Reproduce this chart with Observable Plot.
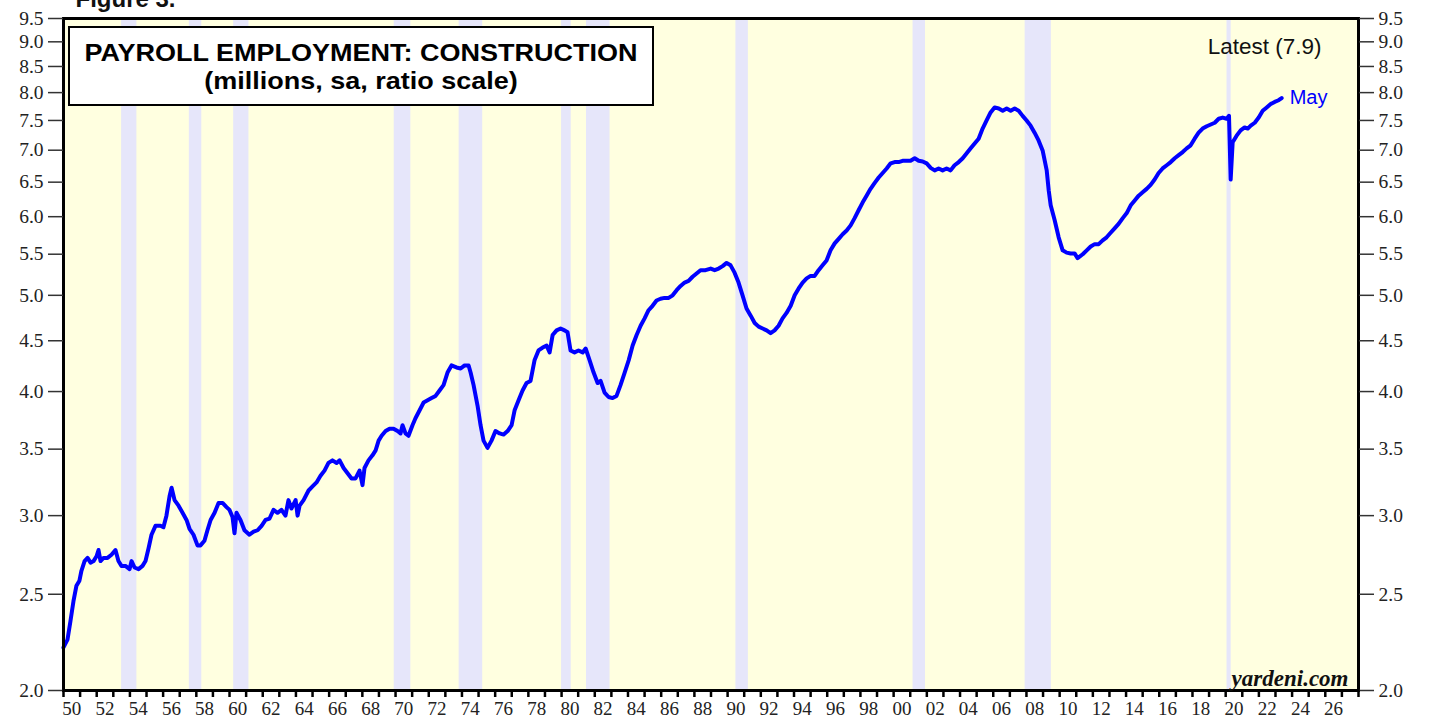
<!DOCTYPE html>
<html><head><meta charset="utf-8">
<script src="https://cdn.jsdelivr.net/npm/d3@7"></script>
<script src="https://cdn.jsdelivr.net/npm/@observablehq/plot@0.6"></script>
<style>
body{margin:0;background:#fff;}
#wrap{position:relative;width:1431px;height:721px;overflow:hidden;}
#title{position:absolute;left:68px;top:26px;width:586px;height:80px;border:2px solid #000;background:#fff;box-sizing:border-box;font-family:"Liberation Sans",Arial,sans-serif;font-weight:bold;color:#000;text-align:center;}
#title .l{position:absolute;left:0;right:0;font-size:24px;line-height:28px;transform:scaleX(1.125);transform-origin:center;}
#title .l1{top:11px;}
#title .l2{top:39px;}
</style></head><body><div id="wrap"></div>
<script>
const years = [1950.00,1950.24,1950.42,1950.60,1950.78,1950.96,1951.08,1951.27,1951.45,1951.63,1951.81,1951.99,1952.11,1952.23,1952.41,1952.65,1952.89,1953.13,1953.31,1953.49,1953.73,1953.98,1954.10,1954.28,1954.52,1954.76,1954.94,1955.12,1955.30,1955.54,1955.84,1956.02,1956.20,1956.39,1956.51,1956.69,1956.93,1957.17,1957.41,1957.59,1957.83,1958.07,1958.25,1958.49,1958.67,1958.86,1959.10,1959.34,1959.58,1959.82,1960.00,1960.18,1960.30,1960.42,1960.66,1960.90,1961.20,1961.45,1961.69,1961.93,1962.17,1962.41,1962.65,1962.89,1963.13,1963.37,1963.55,1963.73,1963.98,1964.10,1964.22,1964.46,1964.76,1965.00,1965.24,1965.48,1965.72,1965.96,1966.20,1966.45,1966.63,1966.87,1967.11,1967.35,1967.59,1967.83,1968.01,1968.13,1968.37,1968.61,1968.80,1968.98,1969.16,1969.40,1969.64,1969.88,1970.12,1970.30,1970.42,1970.60,1970.78,1971.02,1971.20,1971.45,1971.69,1971.93,1972.17,1972.41,1972.65,1972.89,1973.13,1973.37,1973.67,1973.92,1974.16,1974.40,1974.52,1974.70,1974.94,1975.12,1975.30,1975.54,1975.78,1976.02,1976.27,1976.51,1976.75,1976.99,1977.17,1977.41,1977.65,1977.89,1978.13,1978.37,1978.61,1978.86,1979.10,1979.28,1979.46,1979.70,1979.94,1980.18,1980.36,1980.54,1980.78,1981.02,1981.27,1981.45,1981.69,1981.93,1982.17,1982.35,1982.59,1982.83,1983.07,1983.31,1983.55,1983.80,1984.04,1984.28,1984.52,1984.76,1985.00,1985.24,1985.48,1985.72,1985.96,1986.20,1986.45,1986.69,1986.93,1987.17,1987.41,1987.65,1987.89,1988.13,1988.37,1988.67,1988.98,1989.22,1989.46,1989.70,1989.94,1990.18,1990.42,1990.66,1990.90,1991.14,1991.39,1991.63,1991.87,1992.11,1992.35,1992.59,1992.83,1993.07,1993.31,1993.55,1993.80,1994.04,1994.28,1994.52,1994.76,1995.00,1995.24,1995.48,1995.72,1995.96,1996.20,1996.45,1996.69,1996.93,1997.17,1997.41,1997.65,1997.89,1998.13,1998.37,1998.61,1998.86,1999.10,1999.34,1999.58,1999.82,2000.06,2000.30,2000.54,2000.78,2001.02,2001.27,2001.51,2001.75,2001.99,2002.23,2002.47,2002.71,2002.95,2003.19,2003.43,2003.67,2003.92,2004.16,2004.40,2004.64,2004.88,2005.12,2005.36,2005.60,2005.84,2006.08,2006.33,2006.57,2006.81,2007.05,2007.29,2007.53,2007.77,2008.01,2008.25,2008.49,2008.73,2008.98,2009.22,2009.34,2009.46,2009.70,2009.94,2010.18,2010.42,2010.66,2010.90,2011.08,2011.39,2011.63,2011.87,2012.11,2012.35,2012.59,2012.83,2013.07,2013.31,2013.55,2013.80,2014.04,2014.28,2014.52,2014.76,2015.00,2015.24,2015.48,2015.72,2015.96,2016.20,2016.45,2016.69,2016.93,2017.17,2017.41,2017.65,2017.89,2018.13,2018.37,2018.61,2018.86,2019.10,2019.34,2019.58,2019.82,2020.06,2020.20,2020.30,2020.42,2020.66,2020.90,2021.14,2021.33,2021.51,2021.75,2021.99,2022.23,2022.47,2022.71,2022.95,2023.19,2023.37];
const values = [2.21,2.25,2.35,2.46,2.55,2.58,2.64,2.70,2.72,2.69,2.70,2.73,2.77,2.70,2.72,2.72,2.74,2.77,2.70,2.67,2.67,2.65,2.70,2.66,2.65,2.67,2.70,2.78,2.87,2.93,2.93,2.92,3.00,3.14,3.20,3.11,3.07,3.02,2.97,2.91,2.87,2.80,2.80,2.83,2.90,2.97,3.02,3.09,3.09,3.06,3.04,2.99,2.88,3.02,2.97,2.90,2.87,2.89,2.90,2.93,2.97,2.98,3.04,3.02,3.04,3.00,3.11,3.05,3.11,3.00,3.07,3.11,3.18,3.21,3.24,3.29,3.33,3.39,3.41,3.39,3.41,3.35,3.31,3.27,3.27,3.33,3.22,3.35,3.41,3.45,3.49,3.57,3.61,3.65,3.67,3.67,3.65,3.63,3.70,3.63,3.61,3.70,3.76,3.83,3.90,3.92,3.94,3.96,4.01,4.06,4.18,4.25,4.23,4.22,4.25,4.25,4.18,4.06,3.87,3.70,3.57,3.51,3.57,3.65,3.63,3.62,3.65,3.70,3.83,3.92,4.01,4.08,4.10,4.30,4.40,4.43,4.45,4.38,4.56,4.61,4.63,4.61,4.59,4.40,4.38,4.40,4.38,4.42,4.30,4.18,4.08,4.10,3.99,3.95,3.94,3.96,4.06,4.18,4.30,4.45,4.56,4.66,4.74,4.83,4.88,4.94,4.96,4.97,4.97,5.00,5.06,5.11,5.15,5.17,5.22,5.26,5.30,5.30,5.32,5.30,5.32,5.35,5.39,5.36,5.27,5.15,5.00,4.85,4.77,4.69,4.65,4.63,4.61,4.58,4.61,4.66,4.74,4.80,4.88,5.00,5.08,5.15,5.20,5.23,5.23,5.30,5.36,5.42,5.55,5.64,5.70,5.76,5.81,5.88,5.98,6.09,6.20,6.30,6.40,6.49,6.57,6.64,6.71,6.79,6.81,6.81,6.83,6.83,6.83,6.87,6.83,6.82,6.79,6.72,6.68,6.71,6.68,6.71,6.68,6.76,6.81,6.87,6.95,7.03,7.11,7.19,7.36,7.50,7.64,7.73,7.71,7.67,7.71,7.67,7.71,7.67,7.58,7.50,7.41,7.29,7.16,6.99,6.68,6.38,6.16,5.95,5.72,5.55,5.52,5.51,5.51,5.45,5.50,5.55,5.60,5.63,5.63,5.68,5.72,5.78,5.84,5.90,5.98,6.05,6.16,6.23,6.30,6.35,6.40,6.46,6.54,6.64,6.71,6.76,6.81,6.87,6.92,6.97,7.03,7.08,7.19,7.29,7.36,7.40,7.43,7.46,7.53,7.55,7.53,7.58,6.54,7.13,7.24,7.33,7.38,7.36,7.41,7.46,7.55,7.67,7.73,7.79,7.83,7.86,7.90];
const recessionStart = [1953.50,1957.58,1960.25,1969.92,1973.83,1980.00,1981.50,1990.50,2001.17,2007.92,2020.08];
const recessionEnd   = [1954.42,1958.33,1961.17,1970.92,1975.25,1980.58,1982.92,1991.25,2001.92,2009.50,2020.33];
const yTicks = [2.0,2.5,3.0,3.5,4.0,4.5,5.0,5.5,6.0,6.5,7.0,7.5,8.0,8.5,9.0,9.5];
const xTickYears = d3.range(1950, 2029);
const xLabelYears = d3.range(1950, 2027, 2);
const latestLabel = "Latest (7.9)";
const lastMonth = "May";

const series = years.map((y, i) => ({year: y, value: values[i]}));
const recessions = recessionStart.map((s, i) => ({start: s, end: recessionEnd[i]}));
const last = series[series.length - 1];

const serif = "'Liberation Serif','Times New Roman',serif";
const sans = "'Liberation Sans',Arial,sans-serif";

const chart = Plot.plot({
  width: 1431, height: 721,
  marginLeft: 63, marginRight: 73, marginTop: 18, marginBottom: 31,
  style: {fontFamily: serif, fontSize: "19px", background: "transparent", overflow: "hidden"},
  x: {type: "linear", domain: [1950, 2028], label: null},
  y: {type: "log", domain: [2, 9.5], label: null},
  marks: [
    Plot.frame({fill: "#ffffe0", stroke: null}),
    Plot.rect(recessions, {x1: "start", x2: "end", fill: "#e6e6fa"}),
    Plot.line(series, {x: "year", y: "value", stroke: "#0000ff", strokeWidth: 4, strokeLinejoin: "round", strokeLinecap: "round"}),
    Plot.frame({stroke: "#000", strokeWidth: 3}),
    Plot.axisY(yTicks, {anchor: "left", label: null, tickSize: 15, tickPadding: 5, tickFormat: d3.format(".1f"), stroke: "#333", strokeWidth: 1.5, fill: "#222", fontSize: 19.5, fontFamily: serif}),
    Plot.axisY(yTicks, {anchor: "right", label: null, tickSize: 15, tickPadding: 5, tickFormat: d3.format(".1f"), stroke: "#333", strokeWidth: 1.5, fill: "#222", fontSize: 19.5, fontFamily: serif}),
    Plot.axisX(xTickYears, {anchor: "bottom", label: null, tickSize: 7, tickFormat: () => "", stroke: "#000", strokeWidth: 2.5}),
    Plot.axisX(xLabelYears, {anchor: "bottom", label: null, tickSize: 0, tickPadding: 11, dx: 8.3, tickFormat: d => String(d % 100).padStart(2, "0"), fill: "#222", fontSize: 19, fontFamily: serif}),
    Plot.text([latestLabel], {frameAnchor: "top-right", dx: -37, dy: 20, textAnchor: "end", lineAnchor: "top", fontFamily: sans, fontSize: 22.5, fill: "#111"}),
    Plot.text([last], {x: "year", y: "value", text: () => lastMonth, dx: 8, textAnchor: "start", fill: "#0000ff", fontFamily: sans, fontSize: 20}),
    Plot.text(["yardeni.com"], {frameAnchor: "bottom-right", dx: -10, dy: -5, textAnchor: "end", lineAnchor: "bottom", fontFamily: serif, fontWeight: "bold", fontStyle: "italic", fontSize: 23, fill: "#111"}),
    Plot.text(["Figure 3."], {frameAnchor: "top-left", dx: 12, dy: -12, textAnchor: "start", lineAnchor: "bottom", fontFamily: sans, fontWeight: "bold", fontSize: 24, fill: "#111"})
  ]
});
const wrap = document.getElementById("wrap");
wrap.appendChild(chart);
const title = document.createElement("div");
title.id = "title";
title.innerHTML = '<div class="l l1">PAYROLL EMPLOYMENT: CONSTRUCTION</div><div class="l l2">(millions, sa, ratio scale)</div>';
wrap.appendChild(title);
</script></body></html>
